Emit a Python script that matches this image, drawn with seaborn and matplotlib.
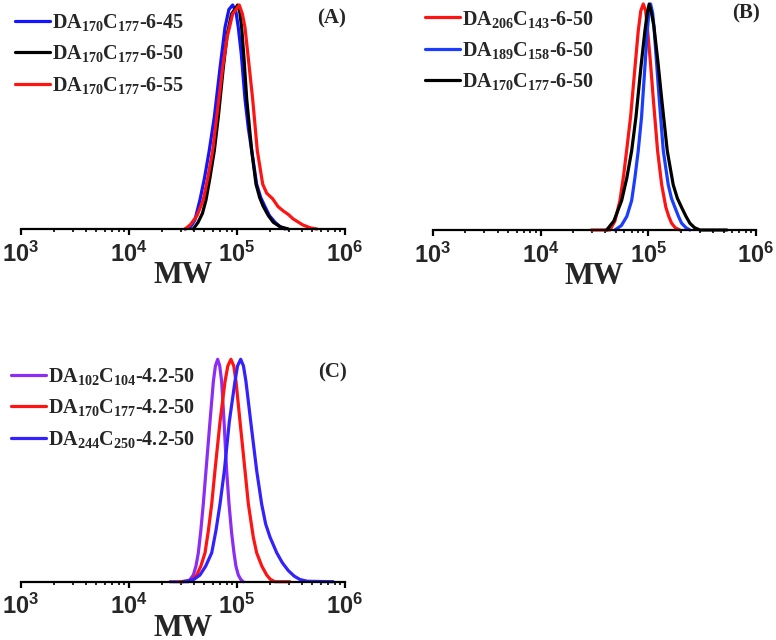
import pandas as pd
import seaborn as sns
import matplotlib.pyplot as plt
plt.switch_backend('Agg')

# ---- data: log10(MW) and normalised intensity ----
# (A) DA170C177 at 45 / 50 / 55
a_blue_logmw = [4.52, 4.57, 4.61, 4.657, 4.70, 4.743, 4.79, 4.843, 4.889, 4.925, 4.96, 4.99,
                5.012, 5.04, 5.074, 5.105, 5.136, 5.182, 5.22, 5.259, 5.30, 5.352, 5.40, 5.444]
a_blue_int = [0, 0.01, 0.04, 0.13, 0.23, 0.35, 0.50, 0.72, 0.90, 0.98, 1.0, 0.97,
              0.90, 0.78, 0.58, 0.45, 0.35, 0.20, 0.14, 0.10, 0.06, 0.03, 0.01, 0]
a_black_logmw = [4.595, 4.64, 4.68, 4.713, 4.75, 4.79, 4.827, 4.873, 4.91, 4.95, 5.006, 5.025,
                 5.043, 5.065, 5.09, 5.136, 5.176, 5.21, 5.244, 5.29, 5.336, 5.40, 5.475]
a_black_int = [0, 0.03, 0.07, 0.13, 0.23, 0.35, 0.50, 0.72, 0.87, 0.96, 1.0, 0.97,
               0.90, 0.76, 0.58, 0.35, 0.20, 0.14, 0.10, 0.06, 0.03, 0.01, 0]
a_red_logmw = [4.52, 4.57, 4.63, 4.688, 4.73, 4.775, 4.812, 4.867, 4.91, 4.96, 5.021, 5.05,
               5.074, 5.114, 5.145, 5.188, 5.238, 5.275, 5.33, 5.38, 5.43, 5.475, 5.52,
               5.61, 5.68, 5.74]
a_red_int = [0, 0.02, 0.06, 0.13, 0.23, 0.35, 0.50, 0.72, 0.86, 0.96, 1.0, 0.96,
             0.90, 0.72, 0.58, 0.35, 0.20, 0.16, 0.135, 0.10, 0.08, 0.065, 0.045,
             0.018, 0.005, 0]
a_labels = ['DA$_{170}$C$_{177}$-6-45', 'DA$_{170}$C$_{177}$-6-50', 'DA$_{170}$C$_{177}$-6-55']

# (B) different block lengths at 6-50
b_red_logmw = [4.47, 4.643, 4.69, 4.736, 4.77, 4.798, 4.835, 4.876, 4.906, 4.93, 4.953, 4.975,
               4.99, 5.02, 5.046, 5.086, 5.124, 5.163, 5.19, 5.216, 5.25, 5.293]
b_red_int = [0, 0, 0.04, 0.13, 0.24, 0.35, 0.50, 0.72, 0.88, 0.97, 1.0, 0.97,
             0.90, 0.74, 0.58, 0.35, 0.20, 0.10, 0.06, 0.03, 0.01, 0]
b_blue_logmw = [4.69, 4.75, 4.80, 4.845, 4.875, 4.906, 4.937, 4.968, 4.99, 5.005, 5.021, 5.04,
                5.052, 5.075, 5.101, 5.139, 5.185, 5.215, 5.247, 5.28, 5.309, 5.35, 5.386]
b_blue_int = [0, 0.02, 0.06, 0.13, 0.23, 0.35, 0.50, 0.72, 0.88, 0.96, 1.0, 0.96,
              0.90, 0.75, 0.58, 0.35, 0.20, 0.14, 0.10, 0.06, 0.03, 0.01, 0]
b_black_logmw = [4.613, 4.68, 4.752, 4.80, 4.845, 4.885, 4.931, 4.968, 4.99, 5.008, 5.03,
                 5.052, 5.09, 5.124, 5.176, 5.231, 5.27, 5.309, 5.35, 5.386, 5.43, 5.479, 5.73]
b_black_int = [0, 0.04, 0.13, 0.23, 0.35, 0.50, 0.72, 0.88, 0.96, 1.0, 0.96,
               0.90, 0.74, 0.58, 0.35, 0.20, 0.14, 0.10, 0.06, 0.03, 0.01, 0, 0]
b_labels = ['DA$_{206}$C$_{143}$-6-50', 'DA$_{189}$C$_{158}$-6-50', 'DA$_{170}$C$_{177}$-6-50']

# (C) different block lengths at 4.2-50
c_purple_logmw = [4.38, 4.55, 4.596, 4.62, 4.642, 4.665, 4.688, 4.713, 4.75, 4.781, 4.80, 4.821,
                  4.84, 4.858, 4.88, 4.904, 4.926, 4.95, 4.972, 4.99, 5.012, 5.035, 5.058]
c_purple_int = [0, 0, 0.03, 0.07, 0.13, 0.23, 0.35, 0.50, 0.72, 0.90, 0.97, 1.0,
                0.97, 0.90, 0.72, 0.50, 0.35, 0.22, 0.13, 0.07, 0.03, 0.01, 0]
c_red_logmw = [4.47, 4.58, 4.627, 4.665, 4.704, 4.735, 4.766, 4.796, 4.843, 4.889, 4.915, 4.944,
               4.97, 4.991, 5.028, 5.074, 5.105, 5.151, 5.182, 5.23, 5.275, 5.31, 5.352, 5.49]
c_red_int = [0, 0.005, 0.03, 0.07, 0.13, 0.23, 0.35, 0.50, 0.72, 0.90, 0.97, 1.0,
             0.97, 0.90, 0.72, 0.50, 0.35, 0.20, 0.13, 0.07, 0.03, 0.01, 0, 0]
c_blue_logmw = [4.50, 4.60, 4.657, 4.71, 4.766, 4.805, 4.843, 4.883, 4.929, 4.981, 5.005, 5.034,
                5.06, 5.083, 5.127, 5.182, 5.228, 5.265, 5.306, 5.368, 5.42, 5.475, 5.53,
                5.583, 5.65, 5.89]
c_blue_int = [0, 0.01, 0.03, 0.07, 0.13, 0.23, 0.35, 0.50, 0.72, 0.90, 0.97, 1.0,
              0.97, 0.90, 0.72, 0.50, 0.35, 0.26, 0.20, 0.13, 0.085, 0.05, 0.025,
              0.01, 0.002, 0]
c_labels = ['DA$_{102}$C$_{104}$-4.2-50', 'DA$_{170}$C$_{177}$-4.2-50', 'DA$_{244}$C$_{250}$-4.2-50']

sns.set_style('white')
plt.rcParams['mathtext.fontset'] = 'custom'
plt.rcParams['mathtext.rm'] = 'Liberation Serif:bold'
plt.rcParams['mathtext.it'] = 'Liberation Serif:bold'
plt.rcParams['mathtext.bf'] = 'Liberation Serif:bold'
plt.rcParams['mathtext.sf'] = 'Liberation Sans:bold'


def build_frame(series, labels):
    rows = []
    for (logmw, inten), lab in zip(series, labels):
        for lx, iv in zip(logmw, inten):
            rows.append({'MW': 10 ** lx, 'intensity': iv, 'sample': lab})
    return pd.DataFrame(rows)


def draw_panel(ax, df, labels, colors, tag, tag_xy, leg_anchor):
    sns.lineplot(data=df, x='MW', y='intensity', hue='sample', hue_order=labels,
                 palette=dict(zip(labels, colors)), estimator=None, sort=False,
                 linewidth=2.3, ax=ax, clip_on=False)
    ax.set_xscale('log')
    ax.set_xlim(1e3, 1e6)
    ax.set_ylim(0, 1)
    ax.set_yticks([])
    ax.set_ylabel('')
    for s in ['left', 'top', 'right']:
        ax.spines[s].set_visible(False)
    ax.spines['bottom'].set_linewidth(1.6)
    ax.spines['bottom'].set_color('black')
    ax.set_xticks([1e3, 1e4, 1e5, 1e6])
    ax.set_xticklabels([r'$\mathsf{10^{%d}}$' % k for k in (3, 4, 5, 6)])
    ax.tick_params(axis='x', which='major', direction='out', length=4, width=1.6,
                   labelsize=17, pad=5, color='black', bottom=True)
    ax.tick_params(axis='x', which='minor', direction='out', length=2.5, width=1.2,
                   color='black', bottom=True)
    ax.set_xlabel('MW', fontfamily='Liberation Serif', fontweight='bold', fontsize=22,
                  labelpad=-4)
    ax.text(tag_xy[0], tag_xy[1], tag, transform=ax.transAxes, ha='center', va='center',
            fontfamily='Liberation Serif', fontweight='bold', fontsize=15)
    handles, labs = ax.get_legend_handles_labels()
    ax.legend(handles, labs, loc='upper left', bbox_to_anchor=leg_anchor, frameon=False,
              prop={'family': 'Liberation Serif', 'weight': 'bold', 'size': 14.5},
              handlelength=1.75, handletextpad=0.1, labelspacing=0.52, borderpad=0,
              borderaxespad=0)


fig = plt.figure(figsize=(7.76, 6.4), dpi=100)
ax_a = fig.add_axes([21 / 776, 1 - 229 / 640, 324 / 776, 224 / 640])
ax_b = fig.add_axes([433 / 776, 1 - 230 / 640, 323 / 776, 226 / 640])
ax_c = fig.add_axes([21 / 776, 1 - 581.7 / 640, 324 / 776, 222.4 / 640])

df_a = build_frame([(a_blue_logmw, a_blue_int), (a_black_logmw, a_black_int),
                    (a_red_logmw, a_red_int)], a_labels)
df_b = build_frame([(b_red_logmw, b_red_int), (b_blue_logmw, b_blue_int),
                    (b_black_logmw, b_black_int)], b_labels)
df_c = build_frame([(c_purple_logmw, c_purple_int), (c_red_logmw, c_red_int),
                    (c_blue_logmw, c_blue_int)], c_labels)

draw_panel(ax_a, df_a, a_labels, ['#1414ff', '#000000', '#ff1414'], '(A)',
           (0.96, 0.94), (-0.0185, 0.97))
draw_panel(ax_b, df_b, b_labels, ['#ff1414', '#1a3dff', '#000000'], '(B)',
           (0.97, 0.96), (-0.025, 0.98))
draw_panel(ax_c, df_c, c_labels, ['#8c2df5', '#ff1414', '#3322ff'], '(C)',
           (0.96, 0.94), (-0.031, 0.97))

fig.savefig('out.png', dpi=100)
